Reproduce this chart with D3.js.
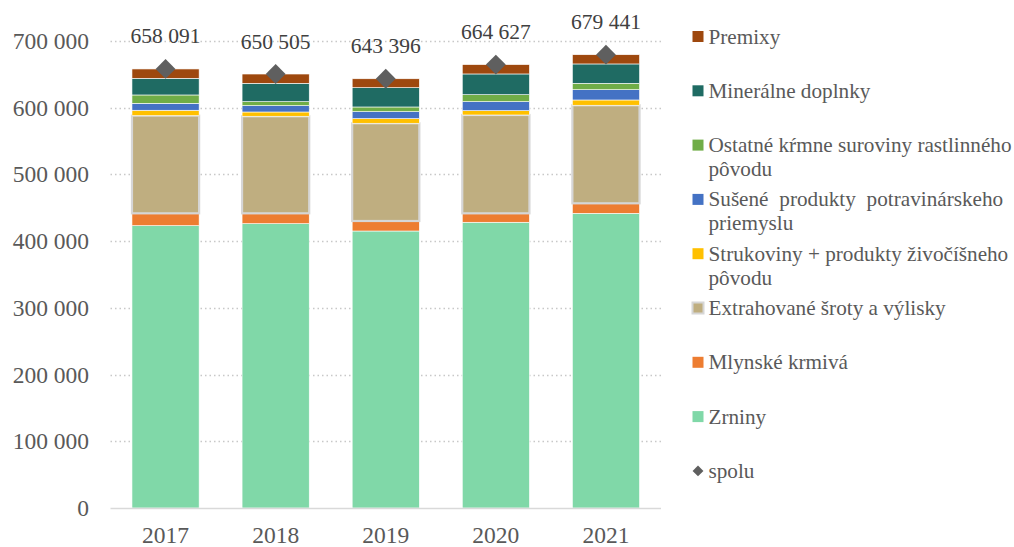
<!DOCTYPE html>
<html>
<head>
<meta charset="utf-8">
<script src="https://cdn.jsdelivr.net/npm/d3@7"></script>
<style>
  html, body { margin: 0; padding: 0; background: #fff; }
  svg { display: block; font-family: "Liberation Serif", "Times New Roman", serif; }
</style>
</head>
<body>
<svg id="chart" width="1014" height="547"></svg>
<script>
// Years on the category axis
const years = ["2017", "2018", "2019", "2020", "2021"];

// Series values (tonnes), bottom of the stack first
const zrniny       = [423200, 426200, 415200, 428300, 441700];
const mlynske      = [18500, 15500, 15000, 13400, 15000];
const extrahovane  = [146400, 145500, 146500, 147400, 147000];
const strukoviny   = [8100, 6400, 6900, 6500, 7900];
const susene       = [10400, 9500, 10500, 13500, 15400];
const ostatne      = [12500, 6000, 7000, 10400, 9600];
const mineralne    = [25000, 27500, 28900, 31100, 29000];
const spolu        = [658091, 650505, 643396, 664627, 679441];
// Premixes fill the remainder up to the stated total
const premixy = spolu.map((t, i) =>
  t - zrniny[i] - mlynske[i] - extrahovane[i] - strukoviny[i] - susene[i] - ostatne[i] - mineralne[i]);

// Y-axis ticks
const yTicks = [0, 100000, 200000, 300000, 400000, 500000, 600000, 700000];

const seriesDefs = [
  { key: "zrniny",      name: "Zrniny",                                   values: zrniny,      color: "#80d8a8" },
  { key: "mlynske",     name: "Mlynské krmivá",                           values: mlynske,     color: "#ed7d31" },
  { key: "extrahovane", name: "Extrahované šroty a výlisky",              values: extrahovane, color: "#bfae80" },
  { key: "strukoviny",  name: "Strukoviny + produkty živočíšneho pôvodu", values: strukoviny,  color: "#ffc000" },
  { key: "susene",      name: "Sušené produkty potravinárskeho priemyslu", values: susene,    color: "#4472c4" },
  { key: "ostatne",     name: "Ostatné kŕmne suroviny rastlinného pôvodu", values: ostatne,   color: "#70ad47" },
  { key: "mineralne",   name: "Minerálne doplnky",                        values: mineralne,   color: "#1f6b63" },
  { key: "premixy",     name: "Premixy",                                  values: premixy,     color: "#9e480e" }
];

// Legend text, split into display lines
const legendLines = {
  premixy: ["Premixy"],
  mineralne: ["Minerálne doplnky"],
  ostatne: ["Ostatné kŕmne suroviny rastlinného", "pôvodu"],
  susene: ["Sušené produkty potravinárskeho", "priemyslu"],
  strukoviny: ["Strukoviny + produkty živočíšneho", "pôvodu"],
  extrahovane: ["Extrahované šroty a výlisky"],
  mlynske: ["Mlynské krmivá"],
  zrniny: ["Zrniny"],
  spolu: ["spolu"]
};

const textColor = "#595959";
const svg = d3.select("#chart");

const fmt = d3.formatLocale({ decimal: ",", thousands: "\u00a0", grouping: [3], currency: ["", " €"] }).format(",d");

const x = d3.scaleBand().domain(years).range([110.5, 661]).paddingInner(0.39).paddingOuter(0.195);
const y = d3.scaleLinear().domain([0, 700000]).range([508, 41]);

// Gridlines
svg.append("g").selectAll("line")
  .data(yTicks.filter(d => d > 0))
  .join("line")
  .attr("x1", 110.5).attr("x2", 661)
  .attr("y1", d => Math.round(y(d)) + 0.5).attr("y2", d => Math.round(y(d)) + 0.5)
  .attr("stroke", "#c8c8c8").attr("stroke-width", 1.3)
  .attr("stroke-dasharray", "1.5,3");

// Y-axis labels
svg.append("g").selectAll("text")
  .data(yTicks)
  .join("text")
  .attr("x", 89).attr("y", d => y(d))
  .attr("dy", "0.34em")
  .attr("text-anchor", "end")
  .attr("font-size", 23.5)
  .attr("fill", textColor)
  .text(d => fmt(d));

// Stacked bars
const rows = years.map((yr, i) => {
  const r = { year: yr };
  seriesDefs.forEach(s => { r[s.key] = s.values[i]; });
  return r;
});
const stacked = d3.stack().keys(seriesDefs.map(s => s.key))(rows);

svg.append("g").selectAll("g")
  .data(stacked)
  .join("g")
  .each(function (layer) {
    const def = seriesDefs.find(s => s.key === layer.key);
    const isExtr = layer.key === "extrahovane";
    d3.select(this).selectAll("rect")
      .data(layer)
      .join("rect")
      .attr("x", d => x(d.data.year))
      .attr("width", x.bandwidth())
      .attr("y", d => y(d[1]))
      .attr("height", d => y(d[0]) - y(d[1]))
      .attr("fill", def.color)
      .attr("stroke", isExtr ? "#d6d6d6" : "#ffffff")
      .attr("stroke-width", isExtr ? 2.2 : 0.6);
  });

// Zero baseline
svg.append("line")
  .attr("x1", 110.5).attr("x2", 661)
  .attr("y1", y(0) + 0.5).attr("y2", y(0) + 0.5)
  .attr("stroke", "#d9d9d9").attr("stroke-width", 1.5);

// X-axis labels
svg.append("g").selectAll("text")
  .data(years)
  .join("text")
  .attr("x", d => x(d) + x.bandwidth() / 2)
  .attr("y", 543)
  .attr("text-anchor", "middle")
  .attr("font-size", 23.5)
  .attr("fill", textColor)
  .text(d => d);

// Total markers
const diamond = d3.symbol().type(d3.symbolDiamond2).size(250);
svg.append("g").selectAll("path")
  .data(years.map((yr, i) => ({ year: yr, v: spolu[i] })))
  .join("path")
  .attr("d", diamond)
  .attr("transform", d => `translate(${x(d.year) + x.bandwidth() / 2},${y(d.v)})`)
  .attr("fill", "#5f5f5f");

// Total labels
svg.append("g").selectAll("text")
  .data(years.map((yr, i) => ({ year: yr, v: spolu[i] })))
  .join("text")
  .attr("x", d => x(d.year) + x.bandwidth() / 2)
  .attr("y", d => y(d.v) - 25.5)
  .attr("text-anchor", "middle")
  .attr("font-size", 21.5)
  .attr("fill", "#404040")
  .text(d => fmt(d.v));

// Legend
const legendOrder = ["premixy", "mineralne", "ostatne", "susene", "strukoviny", "extrahovane", "mlynske", "zrniny", "spolu"];
const legend = svg.append("g");
legendOrder.forEach((key, i) => {
  const cy = 36.5 + i * 54.3;
  const g = legend.append("g");
  if (key === "spolu") {
    g.append("path")
      .attr("d", d3.symbol().type(d3.symbolDiamond2).size(75))
      .attr("transform", `translate(698,${cy})`)
      .attr("fill", "#5f5f5f");
  } else {
    const def = seriesDefs.find(s => s.key === key);
    g.append("rect")
      .attr("x", 692.5).attr("y", cy - 5.5)
      .attr("width", 11).attr("height", 11)
      .attr("fill", def.color)
      .attr("stroke", key === "extrahovane" ? "#d6d6d6" : "none")
      .attr("stroke-width", key === "extrahovane" ? 2 : 0);
  }
  legendLines[key].forEach((line, j) => {
    g.append("text")
      .attr("x", 708.5)
      .attr("y", cy + 7 + j * 24)
      .attr("font-size", 21.2)
      .attr("fill", textColor)
      .attr("word-spacing", key === "susene" && j === 0 ? 5.5 : 0)
      .text(line);
  });
});
</script>
</body>
</html>
